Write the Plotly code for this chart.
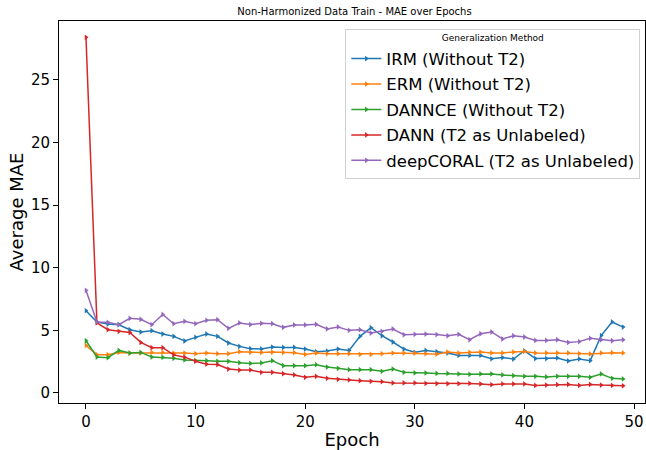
import plotly.graph_objects as go

epochs = list(range(50))

irm = [6.57, 5.67, 5.5, 5.45, 5.05, 4.87, 4.97, 4.71, 4.52, 4.15,
       4.44, 4.71, 4.52, 3.99, 3.72, 3.54, 3.52, 3.67, 3.64, 3.64,
       3.51, 3.3, 3.35, 3.51, 3.4, 4.52, 5.21, 4.57, 4.07, 3.51,
       3.25, 3.4, 3.3, 3.19, 3.0, 3.0, 3.0, 2.73, 2.83, 2.71,
       3.37, 2.75, 2.75, 2.8, 2.56, 2.72, 2.58, 4.58, 5.67, 5.26]
erm = [3.8, 3.06, 3.06, 3.24, 3.19, 3.19, 3.24, 3.24, 3.19, 3.19,
       3.14, 3.19, 3.14, 3.14, 3.3, 3.24, 3.24, 3.27, 3.24, 3.22,
       3.08, 3.19, 3.14, 3.14, 3.14, 3.08, 3.08, 3.14, 3.19, 3.19,
       3.19, 3.14, 3.1, 3.27, 3.2, 3.25, 3.27, 3.2, 3.2, 3.27,
       3.32, 3.2, 3.2, 3.2, 3.2, 3.15, 3.12, 3.2, 3.22, 3.2]
dannce = [4.17, 2.87, 2.82, 3.4, 3.19, 3.24, 2.87, 2.85, 2.77, 2.64,
          2.58, 2.58, 2.53, 2.53, 2.42, 2.36, 2.4, 2.58, 2.18, 2.18,
          2.18, 2.26, 2.07, 1.97, 1.86, 1.86, 1.86, 1.73, 1.91, 1.65,
          1.6, 1.6, 1.56, 1.56, 1.52, 1.49, 1.52, 1.52, 1.44, 1.38,
          1.33, 1.33, 1.28, 1.33, 1.33, 1.33, 1.25, 1.52, 1.17, 1.12]
dann = [28.4, 5.6, 5.05, 4.92, 4.83, 4.04, 3.62, 3.62, 3.04, 2.86,
        2.54, 2.3, 2.27, 1.91, 1.83, 1.84, 1.65, 1.65, 1.54, 1.44,
        1.25, 1.33, 1.17, 1.09, 1.04, 0.98, 0.93, 0.9, 0.8, 0.8,
        0.8, 0.76, 0.75, 0.74, 0.74, 0.76, 0.72, 0.66, 0.72, 0.72,
        0.72, 0.6, 0.63, 0.66, 0.68, 0.6, 0.68, 0.63, 0.6, 0.57]
deepcoral = [8.2, 5.67, 5.64, 5.45, 5.96, 5.88, 5.45, 6.27, 5.53, 5.72,
             5.53, 5.8, 5.85, 5.16, 5.59, 5.46, 5.56, 5.53, 5.24, 5.43,
             5.43, 5.48, 5.11, 5.27, 5.0, 5.05, 4.79, 4.92, 5.11, 4.65,
             4.68, 4.7, 4.66, 4.57, 4.68, 4.25, 4.73, 4.87, 4.31, 4.57,
             4.47, 4.2, 4.2, 4.25, 4.04, 4.1, 4.36, 4.25, 4.17, 4.25]

series_names = ["IRM (Without T2)", "ERM (Without T2)", "DANNCE (Without T2)",
                "DANN (T2 as Unlabeled)", "deepCORAL (T2 as Unlabeled)"]
series_values = [irm, erm, dannce, dann, deepcoral]
colors = ["#1f77b4", "#ff7f0e", "#2ca02c", "#d62728", "#9467bd"]

FONT = "DejaVu Sans"

fig = go.Figure()
for i, (name, vals, c) in enumerate(zip(series_names, series_values, colors)):
    fig.add_trace(go.Scatter(
        x=epochs, y=vals, name=name, mode="lines+markers",
        legendgroup=f"g{i}",
        line=dict(color=c, width=1.5),
        marker=dict(symbol="triangle-right", size=5, color=c,
                    line=dict(width=0)),
    ))

fig.update_layout(
    width=646, height=450,
    margin=dict(l=59, r=1, t=21, b=47),
    paper_bgcolor="white", plot_bgcolor="white",
    font=dict(family=FONT, color="black"),
    title=dict(text="Non-Harmonized Data Train - MAE over Epochs",
               x=(59 + 650) / 2 / 646, xanchor="center", y=1 - 11 / 450, yanchor="middle",
               font=dict(size=10, family=FONT, color="black")),
    legend=dict(
        x=0.992, xanchor="right", y=0.98, yanchor="top",
        bgcolor="rgba(255,255,255,0.8)", bordercolor="#d0d0d0", borderwidth=1,
        font=dict(size=16.5, family=FONT, color="black"),
        title=dict(text="Generalization Method", side="top center",
                   font=dict(size=9, family=FONT, color="black")),
        tracegroupgap=1,
    ),
)

fig.update_xaxes(
    range=[-2.46, 51.0], tickmode="array", tickvals=[0, 10, 20, 30, 40, 50],
    showgrid=False, zeroline=False, showline=True, linecolor="black", linewidth=1,
    mirror=True, ticks="outside", ticklen=5, tickcolor="black",
    tickfont=dict(size=15, family=FONT, color="black"),
    title=dict(text="Epoch", font=dict(size=18, family=FONT, color="black"), standoff=4),
)
fig.update_yaxes(
    range=[-0.8, 29.7], tickmode="array", tickvals=[0, 5, 10, 15, 20, 25],
    showgrid=False, zeroline=False, showline=True, linecolor="black", linewidth=1,
    mirror=True, ticks="outside", ticklen=5, tickcolor="black",
    tickfont=dict(size=15, family=FONT, color="black"),
    title=dict(text="Average MAE", font=dict(size=18, family=FONT, color="black"), standoff=2),
)

fig.write_html("out.html")
